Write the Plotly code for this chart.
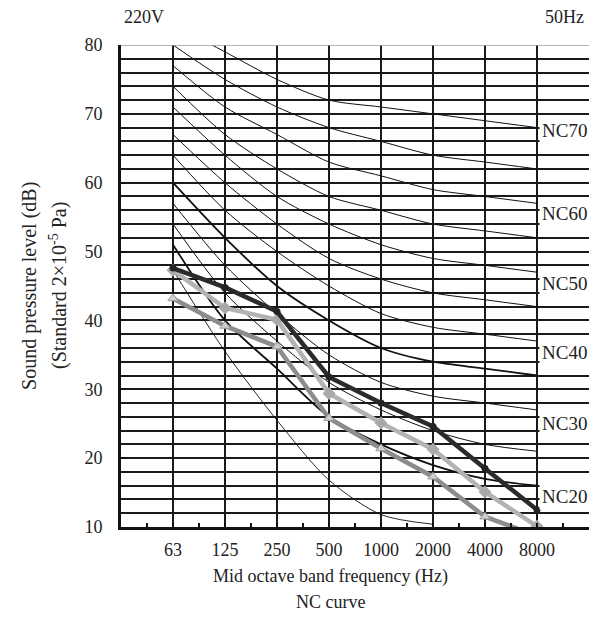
import plotly.graph_objects as go

# Octave band centre frequencies (Hz)
bands = ["63", "125", "250", "500", "1000", "2000", "4000", "8000"]

# NC reference curves (dB) at each band
nc20 = [51, 40, 33, 26, 22, 19, 17, 16]
nc25 = [54, 44, 37, 31, 27, 24, 22, 21]
nc30 = [57, 48, 41, 35, 31, 29, 28, 27]
nc35 = [60, 52, 45, 40, 36, 34, 33, 32]
nc40 = [64, 56, 50, 45, 41, 39, 38, 37]
nc45 = [67, 60, 54, 49, 46, 44, 43, 42]
nc50 = [71, 64, 58, 54, 51, 49, 48, 47]
nc55 = [74, 67, 62, 58, 56, 54, 53, 52]
nc60 = [77, 71, 67, 63, 61, 59, 58, 57]
nc65 = [80, 75, 71, 68, 66, 64, 63, 62]
nc70 = [83, 79, 75, 72, 71, 70, 69, 68]
nc_low = [47.3, 35.5, 25.5, 16.8, 11.8, 10.4]   # 63 .. 2000 Hz

# Measured sound pressure levels (dB)
level_a = [47.6, 44.8, 41.3, 31.8, 28.0, 24.6, 18.5, 12.5]
level_b = [47.3, 41.8, 40.1, 29.4, 25.1, 21.3, 15.1, 10.1]
level_c = [43.2, 39.2, 36.2, 25.8, 21.4, 17.3, 11.5, 8.7]

# NC labels shown at the right edge
nc_labels = ["NC70", "NC60", "NC50", "NC40", "NC30", "NC20"]
nc_label_y = [67.65, 55.6, 45.4, 35.3, 25.1, 14.4]

FONT = "Liberation Serif"
TXT = "#222222"
pos = list(range(1, len(bands) + 1))

fig = go.Figure()

curves = [
    (nc_low, 0.9), (nc20, 1.8), (nc25, 1.0), (nc30, 1.0), (nc35, 1.8),
    (nc40, 1.0), (nc45, 1.0), (nc50, 1.0), (nc55, 1.0), (nc60, 1.0),
    (nc65, 1.0), (nc70, 1.0),
]
for vals, w in curves:
    fig.add_trace(go.Scatter(
        x=pos[:len(vals)], y=vals, mode="lines",
        line=dict(color="#111111", width=w, shape="spline", smoothing=0.8),
        hoverinfo="skip", showlegend=False,
    ))

fig.add_trace(go.Scatter(
    x=pos, y=level_c, mode="lines+markers",
    line=dict(color="#8c8c8c", width=4.5),
    marker=dict(symbol="triangle-up", size=9, color="#cfcfcf",
                line=dict(color="#9a9a9a", width=1)),
    showlegend=False,
))
fig.add_trace(go.Scatter(
    x=pos, y=level_b, mode="lines+markers",
    line=dict(color="#b3b3b3", width=4.5),
    marker=dict(symbol="diamond", size=10, color="#a9a9a9"),
    showlegend=False,
))
fig.add_trace(go.Scatter(
    x=pos, y=level_a, mode="lines+markers",
    line=dict(color="#2b2b2b", width=4.5),
    marker=dict(symbol="circle", size=7, color="#222222"),
    showlegend=False,
))

for txt, yv in zip(nc_labels, nc_label_y):
    fig.add_annotation(
        x=8.04, y=yv, xref="x", yref="y", text=txt, showarrow=False,
        xanchor="left", yanchor="middle", bgcolor="white", borderpad=2,
        font=dict(family=FONT, size=19, color=TXT),
    )

# top border of the grid
fig.add_shape(type="line", xref="paper", yref="y", x0=0, x1=1, y0=80, y1=80,
              line=dict(color="#9a9a9a", width=1.5), layer="above")

fig.add_annotation(x=0.002, y=1.058, xref="paper", yref="paper", text="220V",
                   showarrow=False, xanchor="left", yanchor="middle",
                   font=dict(family=FONT, size=18, color=TXT))
fig.add_annotation(x=0.9935, y=1.058, xref="paper", yref="paper", text="50Hz",
                   showarrow=False, xanchor="right", yanchor="middle",
                   font=dict(family=FONT, size=18, color=TXT))

fig.add_annotation(x=-0.1966, y=0.50, xref="paper", yref="paper",
                   text="Sound pressure level (dB)", textangle=-90,
                   showarrow=False, xanchor="center", yanchor="middle",
                   font=dict(family=FONT, size=20, color=TXT))
fig.add_annotation(x=-0.1346, y=0.50, xref="paper", yref="paper",
                   text="(Standard 2\u00d710<sup>-5</sup> Pa)", textangle=-90,
                   showarrow=False, xanchor="center", yanchor="middle",
                   font=dict(family=FONT, size=20, color=TXT))

fig.add_annotation(x=0.4466, y=-0.1037, xref="paper", yref="paper",
                   text="Mid octave band frequency (Hz)",
                   showarrow=False, xanchor="center", yanchor="middle",
                   font=dict(family=FONT, size=18, color=TXT))
fig.add_annotation(x=0.4466, y=-0.1556, xref="paper", yref="paper",
                   text="NC curve",
                   showarrow=False, xanchor="center", yanchor="middle",
                   font=dict(family=FONT, size=18, color=TXT))

fig.update_xaxes(
    range=[0, 9], tickmode="array", tickvals=pos, ticktext=bands,
    showgrid=True, gridcolor="#1a1a1a", gridwidth=2,
    showline=True, linecolor="#111111", linewidth=3,
    ticks="inside", ticklen=4, tickwidth=2, tickcolor="#111111",
    ticklabelstandoff=4,
    minor=dict(dtick=0.5, tick0=0, ticks="inside", ticklen=4, tickwidth=2,
               tickcolor="#111111", showgrid=False),
    tickfont=dict(family=FONT, size=18, color=TXT),
    zeroline=False, fixedrange=True,
)
fig.update_yaxes(
    range=[10, 80], tickmode="array", tickvals=list(range(10, 81, 10)),
    showgrid=True, gridcolor="#1a1a1a", gridwidth=1.6,
    showline=True, linecolor="#111111", linewidth=3,
    ticks="inside", ticklen=5, tickwidth=2, tickcolor="#111111",
    ticklabelstandoff=12,
    minor=dict(dtick=2, tick0=10, showgrid=True, gridcolor="#1a1a1a",
               gridwidth=1.6),
    tickfont=dict(family=FONT, size=18, color=TXT),
    zeroline=False, fixedrange=True,
)

fig.update_layout(
    width=590, height=627,
    margin=dict(l=121, r=1, t=45, b=100),
    paper_bgcolor="white", plot_bgcolor="white",
    showlegend=False,
)

fig.write_html("out.html")
